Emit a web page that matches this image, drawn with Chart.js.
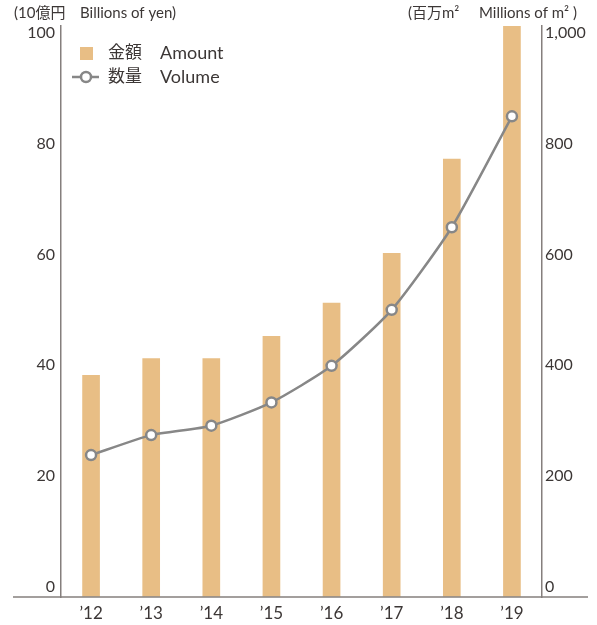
<!DOCTYPE html>
<html>
<head>
<meta charset="utf-8">
<script src="https://cdn.jsdelivr.net/npm/chart.js@4"></script>
<style>
  html, body { margin: 0; padding: 0; background: #fff; }
  #wrap { width: 597px; height: 625px; position: relative; }
</style>
</head>
<body>
<div id="wrap"><canvas id="chart" width="597" height="625"></canvas></div>
<script>
// data
const years = ["\u201912", "\u201913", "\u201914", "\u201915", "\u201916", "\u201917", "\u201918", "\u201919"];
const amount = [40, 43, 43, 47, 53, 62, 79, 103];        // 10億円 / billions of yen
const volume = [256, 292, 309, 351, 417, 518, 667, 867]; // 百万m² / millions of m²
const leftTicks = [0, 20, 40, 60, 80, 100];
const rightTicks = [0, 200, 400, 600, 800, 1000];

const FONT = "Lato, 'Noto Sans CJK JP', sans-serif";
const TEXT = "#3c3736";
const BAR = "#e8be85";
const LINE = "#878787";
const AXIS = "#857f7d";

// titles, legend and the long baseline
const extras = {
    id: "extras",
    afterDraw(chart) {
        const ctx = chart.ctx;
        ctx.save();
        ctx.fillStyle = TEXT;
        ctx.textBaseline = "middle";
        ctx.textAlign = "left";

        ctx.font = "15px " + FONT;
        ctx.fillText("(10億円", 14, 13);
        ctx.fillText("Billions of yen)", 80, 13);
        ctx.fillText("(百万m²", 408, 13);
        ctx.fillText("Millions of m² )", 479, 13);

        // legend
        ctx.fillStyle = BAR;
        ctx.fillRect(80, 47, 13, 13);
        ctx.strokeStyle = LINE;
        ctx.lineWidth = 2.5;
        ctx.beginPath();
        ctx.moveTo(72, 77);
        ctx.lineTo(99, 77);
        ctx.stroke();
        ctx.beginPath();
        ctx.arc(86, 77, 5, 0, Math.PI * 2);
        ctx.fillStyle = "#fff";
        ctx.fill();
        ctx.stroke();

        ctx.fillStyle = TEXT;
        ctx.font = "17px " + FONT;
        ctx.fillText("金額", 108, 53);
        ctx.fillText("数量", 108, 77);
        ctx.font = "18px " + FONT;
        ctx.fillText("Amount", 160, 53);
        ctx.fillText("Volume", 160, 77);

        // baseline
        ctx.strokeStyle = AXIS;
        ctx.lineWidth = 1.5;
        ctx.beginPath();
        ctx.moveTo(13, chart.chartArea.bottom);
        ctx.lineTo(588, chart.chartArea.bottom);
        ctx.stroke();
        ctx.restore();
    }
};

function keepTicks(list) {
    return function (scale) {
        scale.ticks = list.map(v => ({ value: v }));
    };
}

new Chart(document.getElementById("chart"), {
    type: "bar",
    data: {
        labels: years,
        datasets: [
            {
                type: "line",
                label: "数量 Volume",
                data: volume,
                yAxisID: "y2",
                borderColor: LINE,
                borderWidth: 2.5,
                tension: 0.2,
                pointRadius: 5,
                pointBorderWidth: 2.5,
                pointBackgroundColor: "#fff",
                pointBorderColor: LINE,
                order: 0
            },
            {
                label: "金額 Amount",
                data: amount,
                yAxisID: "y",
                backgroundColor: BAR,
                barThickness: 17,
                order: 1
            }
        ]
    },
    options: {
        responsive: false,
        animation: false,
        layout: { padding: { top: 26, left: 0, right: 0, bottom: 0 } },
        plugins: { legend: { display: false }, tooltip: { enabled: false } },
        scales: {
            x: {
                grid: { display: false, drawTicks: false },
                border: { display: false },
                ticks: { color: TEXT, font: { family: FONT, size: 17 }, padding: 6 },
                afterFit(scale) { scale.height = 28; }
            },
            y: {
                position: "left",
                min: 0,
                max: 103,
                afterBuildTicks: keepTicks(leftTicks),
                grid: { display: true, drawOnChartArea: false, drawTicks: false },
                border: { display: true, color: AXIS, width: 1.5 },
                ticks: { color: TEXT, font: { family: FONT, size: 16 }, padding: 6, labelOffset: -10 },
                afterFit(scale) { scale.width = 61; }
            },
            y2: {
                position: "right",
                min: 0,
                max: 1030,
                afterBuildTicks: keepTicks(rightTicks),
                grid: { display: true, drawOnChartArea: false, drawTicks: false },
                border: { display: true, color: AXIS, width: 1.5 },
                ticks: {
                    color: TEXT,
                    font: { family: FONT, size: 16 },
                    padding: 3,
                    labelOffset: -10,
                    callback: v => v.toLocaleString("en-US")
                },
                afterFit(scale) { scale.width = 55; }
            }
        }
    },
    plugins: [extras]
});
</script>
</body>
</html>
